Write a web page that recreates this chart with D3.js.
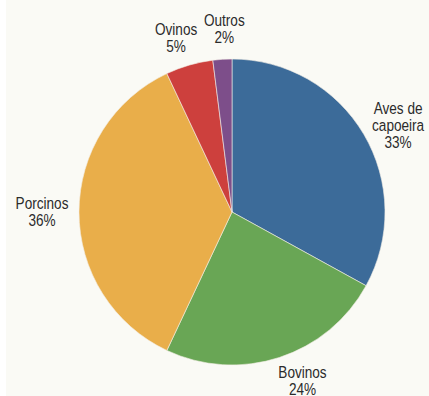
<!DOCTYPE html>
<html>
<head>
<meta charset="utf-8">
<script src="https://cdn.jsdelivr.net/npm/d3@7"></script>
<style>
  body { margin: 0; background: #fff; }
  svg { display: block; }
  text { font-family: "Liberation Sans", Arial, sans-serif; font-size: 17px; fill: #2b2b2b; }
</style>
</head>
<body>
<svg class="chart"></svg>
<script>
var width = 429,
	height = 396;

// data
var categories = ['Aves de capoeira', 'Bovinos', 'Porcinos', 'Ovinos', 'Outros'];
var labelLines = [['Aves de', 'capoeira'], ['Bovinos'], ['Porcinos'], ['Ovinos'], ['Outros']];
var shares = [33, 24, 36, 5, 2];
var colours = ['#3c6b99', '#69a655', '#e9ae4a', '#cd403d', '#7d4e8a'];

// small label nudges (px), layout only
var nudges = [[6, 8], [13, -8], [-4, -1], [-4, 4], [4, 2]];

var cx = 232, cy = 212, radius = 153, labelRadius = 186, lineH = 17;

var svg = d3.select('.chart')
	.attr('width', width)
	.attr('height', height);

svg.append('rect')
	.attr('x', 6)
	.attr('y', 0)
	.attr('width', width - 6)
	.attr('height', height)
	.attr('fill', '#fafaf5');

var pieGen = d3.pie().sort(null).value(d => d);
var arcs = pieGen(shares);

var arcGen = d3.arc().innerRadius(0).outerRadius(radius);
var labelArc = d3.arc().innerRadius(labelRadius).outerRadius(labelRadius);

var chart = svg.append('g')
	.attr('transform', 'translate(' + cx + ',' + cy + ')');

chart.selectAll('path')
	.data(arcs)
	.enter()
	.append('path')
	.attr('d', arcGen)
	.attr('fill', (d, i) => colours[i])
	.attr('stroke', '#f3eee6')
	.attr('stroke-width', 0.6);

//Labels (condensed look: squeeze horizontally)
var labels = chart.selectAll('.label')
	.data(arcs)
	.enter()
	.append('text')
	.attr('class', 'label')
	.attr('text-anchor', 'middle')
	.attr('transform', (d, i) => {
		var c = labelArc.centroid(d);
		return 'translate(' + (c[0] + nudges[i][0]) + ',' + (c[1] + nudges[i][1]) + ') scale(0.8,1)';
	});

labels.each(function(d, i) {
	var lines = labelLines[i].concat([shares[i] + '%']);
	var y0 = -(lines.length - 1) * lineH / 2 + 6;
	var t = d3.select(this);
	lines.forEach((l, j) => {
		t.append('tspan')
			.attr('x', 0)
			.attr('y', y0 + j * lineH)
			.text(l);
	});
});
</script>
</body>
</html>
